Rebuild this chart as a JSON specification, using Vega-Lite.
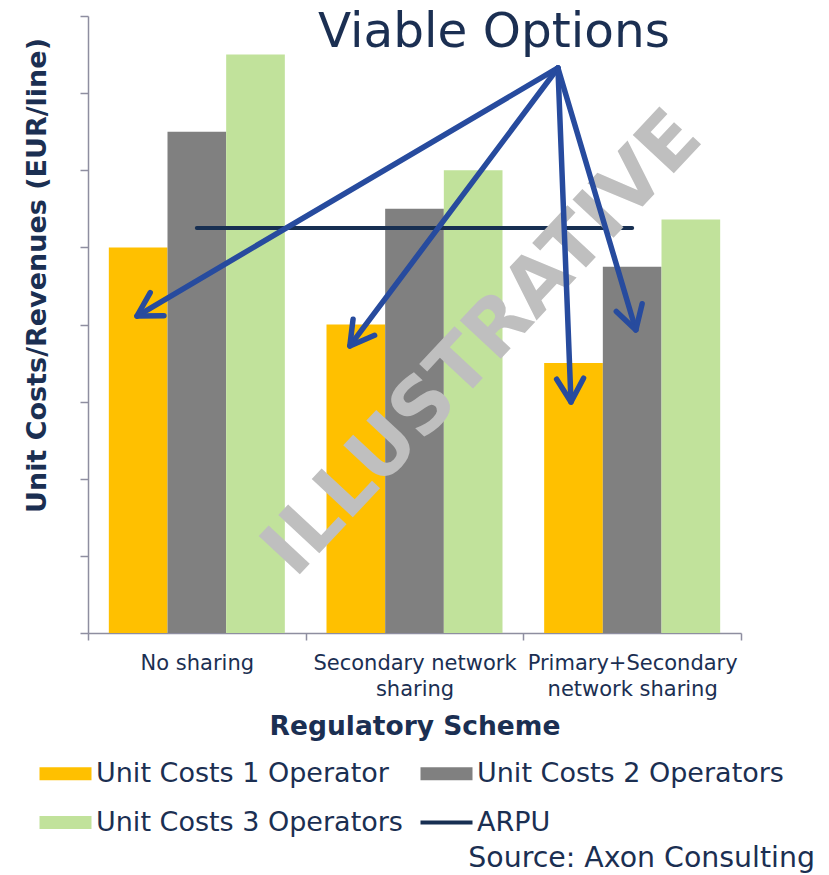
{
  "$schema": "https://vega.github.io/schema/vega-lite/v6.json",
  "width": 653,
  "height": 617,
  "autosize": "none",
  "padding": {"left": 88, "top": 16, "right": 88, "bottom": 242},
  "background": "white",
  "config": {
    "view": {"stroke": null},
    "font": "DejaVu Sans",
    "axis": {"labelFont": "DejaVu Sans", "titleFont": "DejaVu Sans", "grid": false}
  },
  "datasets": {
    "costs": [
      {"scheme": "No sharing", "series": "Unit Costs 1 Operator", "value": 5.0},
      {"scheme": "No sharing", "series": "Unit Costs 2 Operators", "value": 6.5},
      {"scheme": "No sharing", "series": "Unit Costs 3 Operators", "value": 7.5},
      {"scheme": "Secondary network sharing", "series": "Unit Costs 1 Operator", "value": 4.0},
      {"scheme": "Secondary network sharing", "series": "Unit Costs 2 Operators", "value": 5.5},
      {"scheme": "Secondary network sharing", "series": "Unit Costs 3 Operators", "value": 6.0},
      {"scheme": "Primary+Secondary network sharing", "series": "Unit Costs 1 Operator", "value": 3.5},
      {"scheme": "Primary+Secondary network sharing", "series": "Unit Costs 2 Operators", "value": 4.75},
      {"scheme": "Primary+Secondary network sharing", "series": "Unit Costs 3 Operators", "value": 5.36}
    ],
    "arpu": [
      {"scheme": "No sharing", "series": "ARPU", "value": 5.25},
      {"scheme": "Secondary network sharing", "series": "ARPU", "value": 5.25},
      {"scheme": "Primary+Secondary network sharing", "series": "ARPU", "value": 5.25}
    ],
    "arrows": [
      {"ax": 2.159, "ay": 7.326, "tx": 0.225, "ty": 4.11},
      {"ax": 2.159, "ay": 7.326, "tx": 1.203, "ty": 3.722},
      {"ax": 2.159, "ay": 7.326, "tx": 2.219, "ty": 2.995},
      {"ax": 2.159, "ay": 7.326, "tx": 2.517, "ty": 3.929}
    ],
    "watermark": [{"label": "ILLUSTRATIVE", "x": 1.815, "y": 3.747}],
    "headline": [{"label": "Viable Options", "x": 1.865, "y": 7.598}],
    "source": [{"label": "Source: Axon Consulting", "x": 3.34, "y": -3.03}]
  },
  "resolve": {"scale": {"x": "independent"}, "axis": {"y": "independent"}},
  "layer": [
    {
      "layer": [
        {
          "data": {"name": "costs"},
          "mark": {"type": "bar"},
          "encoding": {
            "x": {
              "field": "scheme",
              "type": "nominal",
              "sort": ["No sharing", "Secondary network sharing", "Primary+Secondary network sharing"],
              "scale": {"paddingInner": 0, "paddingOuter": 0},
              "axis": {
                "title": "Regulatory Scheme",
                "titleFontSize": 26.5,
                "titleFontWeight": "bold",
                "titleColor": "#1B2F52",
                "titleY": 101,
                "titleBaseline": "alphabetic",
                "labelFontSize": 21,
                "labelColor": "#1B2F52",
                "labelAngle": 0,
                "labelPadding": 12,
                "labelLineHeight": 26,
                "labelBaseline": "top",
                "labelLimit": 0,
                "labelOverlap": false,
                "labelExpr": "datum.value == 'Secondary network sharing' ? ['Secondary network', 'sharing'] : datum.value == 'Primary+Secondary network sharing' ? ['Primary+Secondary', 'network sharing'] : datum.value",
                "tickBand": "extent",
                "tickSize": 7,
                "tickColor": "#8E8EA0",
                "tickWidth": 1.5,
                "domainColor": "#8E8EA0",
                "domainWidth": 1.5
              }
            },
            "xOffset": {
              "field": "series",
              "type": "nominal",
              "sort": ["Unit Costs 1 Operator", "Unit Costs 2 Operators", "Unit Costs 3 Operators"],
              "scale": {"paddingInner": 0, "paddingOuter": 0.355}
            },
            "y": {
              "field": "value",
              "type": "quantitative",
              "scale": {"domain": [0, 8], "nice": false, "zero": true},
              "axis": {
                "title": "Unit Costs/Revenues (EUR/line)",
                "labels": false,
                "values": [0, 1, 2, 3, 4, 5, 6, 7, 8],
                "tickSize": 8,
                "tickColor": "#8E8EA0",
                "tickWidth": 1.5,
                "domainColor": "#8E8EA0",
                "domainWidth": 1.5,
                "titleFontSize": 27,
                "titleFontWeight": "bold",
                "titleColor": "#1B2F52",
                "titleX": -37,
                "titleY": 259,
                "titleAngle": -90,
                "titleBaseline": "bottom",
                "titleAlign": "center"
              }
            },
            "color": {
              "field": "series",
              "type": "nominal",
              "scale": {
                "domain": ["Unit Costs 1 Operator", "Unit Costs 2 Operators", "Unit Costs 3 Operators", "ARPU"],
                "range": ["#FFC000", "#808080", "#C1E29B", "#172F52"]
              },
              "legend": {
                "orient": "none",
                "legendX": -36,
                "legendY": 744,
                "columns": 2,
                "direction": "horizontal",
                "title": null,
                "padding": 0,
                "labelFont": "DejaVu Sans",
                "labelFontSize": 27,
                "labelColor": "#1B2F52",
                "labelLimit": 0,
                "labelOffset": 17,
                "symbolSize": 2704,
                "columnPadding": 9,
                "rowPadding": 21,
                "encode": {
                  "symbols": {
                    "update": {
                      "shape": {"signal": "datum.value === 'ARPU' ? 'stroke' : 'M-1,-0.25L1,-0.25L1,0.25L-1,0.25Z'"},
                      "strokeWidth": {"signal": "datum.value === 'ARPU' ? 4 : 0"},
                      "stroke": {"signal": "scale('color', datum.value)"},
                      "fill": {"signal": "datum.value === 'ARPU' ? 'transparent' : scale('color', datum.value)"},
                      "opacity": {"value": 1},
                      "fillOpacity": {"value": 1},
                      "strokeOpacity": {"value": 1}
                    }
                  }
                }
              }
            }
          }
        },
        {
          "data": {"name": "arpu"},
          "mark": {"type": "line", "strokeWidth": 4, "strokeCap": "round"},
          "encoding": {
            "x": {"field": "scheme", "type": "nominal", "sort": ["No sharing", "Secondary network sharing", "Primary+Secondary network sharing"]},
            "y": {"field": "value", "type": "quantitative"},
            "color": {"field": "series", "type": "nominal"}
          }
        }
      ]
    },
    {
      "layer": [
        {
          "data": {"name": "watermark"},
          "mark": {"type": "text", "font": "DejaVu Sans", "fontWeight": "bold", "fontSize": 77, "angle": -47, "align": "center", "baseline": "middle", "color": "#BFBFBF"},
          "encoding": {
            "x": {"field": "x", "type": "quantitative", "scale": {"domain": [0, 3], "nice": false, "zero": false}, "axis": null},
            "y": {"field": "y", "type": "quantitative", "scale": {"domain": [0, 8], "nice": false}, "axis": null},
            "text": {"field": "label"}
          }
        },
        {
          "data": {"name": "arrows"},
          "mark": {"type": "rule", "color": "#274B9E", "strokeWidth": 5.5, "strokeCap": "round"},
          "encoding": {
            "x": {"field": "ax", "type": "quantitative", "axis": null},
            "y": {"field": "ay", "type": "quantitative", "axis": null},
            "x2": {"field": "tx"},
            "y2": {"field": "ty"}
          }
        },
        {
          "data": {"name": "arrows"},
          "transform": [
            {"calculate": "atan2((datum.tx - datum.ax) * 217.67, (datum.ty - datum.ay) * 77.125) * 180 / PI", "as": "heading"}
          ],
          "mark": {"type": "point", "shape": "M-0.5,0.866L0,0L0.5,0.866", "filled": false, "size": 2900, "stroke": "#274B9E", "strokeWidth": 5.5, "strokeCap": "round", "strokeJoin": "round", "opacity": 1},
          "encoding": {
            "x": {"field": "tx", "type": "quantitative", "axis": null},
            "y": {"field": "ty", "type": "quantitative", "axis": null},
            "angle": {"field": "heading", "type": "quantitative", "scale": null}
          }
        },
        {
          "data": {"name": "headline"},
          "mark": {"type": "text", "font": "DejaVu Sans", "fontSize": 48.5, "align": "center", "baseline": "alphabetic", "color": "#1B2F52"},
          "encoding": {
            "x": {"field": "x", "type": "quantitative", "axis": null},
            "y": {"field": "y", "type": "quantitative", "axis": null},
            "text": {"field": "label"}
          }
        },
        {
          "data": {"name": "source"},
          "mark": {"type": "text", "font": "DejaVu Sans", "fontSize": 28.4, "align": "right", "baseline": "alphabetic", "color": "#1B2F52"},
          "encoding": {
            "x": {"field": "x", "type": "quantitative", "axis": null},
            "y": {"field": "y", "type": "quantitative", "axis": null},
            "text": {"field": "label"}
          }
        }
      ]
    }
  ]
}
